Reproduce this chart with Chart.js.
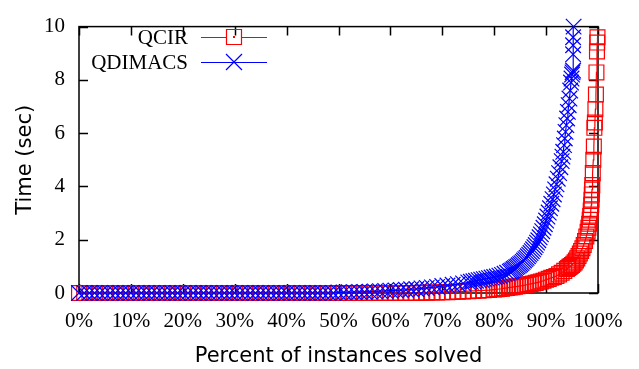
<!DOCTYPE html>
<html>
<head>
<meta charset="utf-8">
<script src="https://cdn.jsdelivr.net/npm/chart.js@4"></script>
<style>
  html, body { margin: 0; padding: 0; background: #fff; }
</style>
</head>
<body>
<canvas id="cactus" width="639" height="369"></canvas>
<script>
// series names and tick values
const seriesNames = ['QCIR', 'QDIMACS'];
const xTicks = [0, 10, 20, 30, 40, 50, 60, 70, 80, 90, 100];
const yTicks = [0, 2, 4, 6, 8, 10];

// QCIR: percent of instances solved vs time (sec)
const qcirPct = [
  0, 1, 2, 3, 4, 5, 6, 7, 8, 9,
  10, 11, 12, 13, 14, 15, 16, 17, 18, 19,
  20, 21, 22, 23, 24, 25, 26, 27, 28, 29,
  30, 31, 32, 33, 34, 35, 36, 37, 38, 39,
  40, 41, 42, 43, 44, 45, 46, 47, 48, 49,
  50, 51, 52, 53, 54, 55, 56, 57, 58, 59,
  60, 61, 62, 63, 64, 65, 66, 67, 68, 69,
  70, 71, 72, 73, 74, 75, 76, 77, 78, 79,
  80, 80.5, 81, 81.5, 82, 82.5, 83, 83.5, 84, 84.5,
  85, 85.5, 86, 86.5, 87, 87.5, 88, 88.5, 89, 89.5,
  90, 90.5, 91, 91.5, 92, 92.5, 93, 93.5, 94, 94.25,
  94.5, 94.75, 95, 95.25, 95.5, 95.75, 96, 96.25, 96.5, 96.75,
  97, 97.25, 97.5, 97.75, 98, 98.15, 98.3, 98.4, 98.5, 98.6,
  98.7, 98.75, 98.8, 98.85, 98.9, 99, 99.1, 99.2, 99.3, 99.4,
  99.5, 99.6, 99.7, 99.8, 99.85, 99.9];
const qcirTime = [
  0, 0, 0, 0, 0, 0, 0, 0, 0, 0,
  0, 0, 0, 0, 0, 0, 0, 0, 0, 0,
  0, 0, 0, 0, 0, 0, 0, 0, 0, 0,
  0, 0, 0, 0, 0, 0, 0, 0, 0, 0,
  0, 0, 0, 0, 0, 0, 0, 0, 0, 0,
  0, 0, 0, 0, 0, 0, 0, 0, 0, 0,
  0, 0, 0, 0, 0, 0, 0.01, 0.01, 0.02, 0.02,
  0.03, 0.03, 0.04, 0.05, 0.06, 0.07, 0.08, 0.09, 0.1, 0.11,
  0.13, 0.14, 0.15, 0.16, 0.18, 0.19, 0.21, 0.22, 0.24, 0.25,
  0.27, 0.28, 0.3, 0.32, 0.34, 0.36, 0.38, 0.4, 0.43, 0.46,
  0.5, 0.53, 0.57, 0.6, 0.64, 0.7, 0.76, 0.83, 0.9, 0.94,
  0.98, 1.01, 1.05, 1.1, 1.15, 1.22, 1.3, 1.39, 1.48, 1.58,
  1.68, 1.8, 1.95, 2.12, 2.3, 2.45, 2.6, 2.75, 2.9, 3.1,
  3.3, 3.5, 3.7, 3.88, 4.05, 4.5, 5.0, 5.5, 6.2, 6.4,
  6.9, 7.45, 8.28, 9.07, 9.4, 9.6];

// QDIMACS
const qdimacsPct = [
  0, 1, 2, 3, 4, 5, 6, 7, 8, 9,
  10, 11, 12, 13, 14, 15, 16, 17, 18, 19,
  20, 21, 22, 23, 24, 25, 26, 27, 28, 29,
  30, 31, 32, 33, 34, 35, 36, 37, 38, 39,
  40, 41, 42, 43, 44, 45, 46, 47, 48, 49,
  50, 51, 52, 53, 54, 55, 56, 57, 58, 59,
  60, 61, 62, 63, 64, 65, 66, 67, 68, 69,
  70, 71, 72, 73, 74, 75, 75.5, 76, 76.5, 77,
  77.5, 78, 78.5, 79, 79.5, 80, 80.5, 81, 81.5, 82,
  82.5, 83, 83.25, 83.5, 83.75, 84, 84.25, 84.5, 84.75, 85,
  85.25, 85.5, 85.75, 86, 86.25, 86.5, 86.75, 87, 87.25, 87.5,
  87.75, 88, 88.25, 88.5, 88.75, 89, 89.25, 89.5, 89.75, 90,
  90.25, 90.5, 90.75, 91, 91.25, 91.5, 91.75, 92, 92.25, 92.5,
  92.75, 93, 93.15, 93.3, 93.45, 93.6, 93.75, 93.9, 94.05, 94.2,
  94.35, 94.5, 94.65, 94.8, 94.9, 95, 95.1, 95.2, 95.2, 95.2,
  95.2, 95.3];
const qdimacsTime = [
  0, 0, 0, 0, 0, 0, 0, 0, 0, 0,
  0, 0, 0, 0, 0, 0, 0, 0, 0, 0,
  0, 0, 0, 0, 0, 0, 0, 0, 0, 0,
  0, 0, 0, 0, 0, 0, 0, 0, 0, 0,
  0, 0, 0, 0, 0, 0, 0, 0, 0, 0,
  0.02, 0.02, 0.03, 0.03, 0.04, 0.04, 0.05, 0.06, 0.07, 0.08,
  0.09, 0.1, 0.11, 0.12, 0.14, 0.15, 0.17, 0.19, 0.21, 0.23,
  0.26, 0.28, 0.31, 0.33, 0.36, 0.4, 0.42, 0.44, 0.46, 0.48,
  0.5, 0.52, 0.54, 0.56, 0.58, 0.6, 0.62, 0.65, 0.68, 0.72,
  0.76, 0.8, 0.83, 0.86, 0.9, 0.93, 0.97, 1.0, 1.04, 1.08,
  1.12, 1.17, 1.22, 1.27, 1.32, 1.38, 1.44, 1.5, 1.57, 1.64,
  1.72, 1.8, 1.89, 1.98, 2.09, 2.2, 2.32, 2.45, 2.58, 2.72,
  2.87, 3.02, 3.18, 3.35, 3.52, 3.7, 3.89, 4.08, 4.29, 4.5,
  4.72, 4.95, 5.12, 5.3, 5.55, 5.8, 6.05, 6.3, 6.55, 6.8,
  7.05, 7.3, 7.6, 7.9, 8.05, 8.2, 8.28, 8.35, 8.96, 9.3,
  9.6, 10];

const RED = '#ff0000';
const BLUE = '#0000ff';
const serif = '"Liberation Serif", "Times New Roman", serif';
const sans = '"DejaVu Sans", sans-serif';

function toPoints(xs, ys) {
    return xs.map((x, i) => ({ x: x, y: ys[i] }));
}

// gnuplot style frame: box round the plot plus inward ticks on all four sides
const framePlugin = {
    id: 'frame',
    beforeDatasetsDraw(chart) {
        const { ctx, chartArea: a, scales } = chart;
        const len = 9;
        ctx.save();
        ctx.strokeStyle = '#000';
        ctx.lineWidth = 1.5;
        ctx.beginPath();
        xTicks.forEach(v => {
            const px = Math.round(scales.x.getPixelForValue(v)) + 0.5;
            ctx.moveTo(px, a.bottom); ctx.lineTo(px, a.bottom - len);
            ctx.moveTo(px, a.top); ctx.lineTo(px, a.top + len);
        });
        yTicks.forEach(v => {
            const py = Math.round(scales.y.getPixelForValue(v)) + 0.5;
            ctx.moveTo(a.left, py); ctx.lineTo(a.left + len, py);
            ctx.moveTo(a.right, py); ctx.lineTo(a.right - len, py);
        });
        ctx.stroke();
        ctx.strokeRect(a.left, a.top, a.right - a.left, a.bottom - a.top);
        ctx.restore();
    }
};

// key drawn inside the plot, top left, like the gnuplot one
const keyPlugin = {
    id: 'key',
    afterDraw(chart) {
        const { ctx } = chart;
        const rows = [
            { name: seriesNames[0], color: RED, y: 37, mark: 'rect' },
            { name: seriesNames[1], color: BLUE, y: 62, mark: 'cross' }
        ];
        ctx.save();
        ctx.font = '21px ' + serif;
        ctx.textAlign = 'right';
        ctx.textBaseline = 'middle';
        rows.forEach(r => {
            ctx.fillStyle = '#000';
            ctx.fillText(r.name, 188, r.y + 1);
            ctx.strokeStyle = r.color;
            ctx.lineWidth = 1.2;
            ctx.beginPath();
            if (r.mark === 'rect') {
                ctx.moveTo(201, r.y + 0.5); ctx.lineTo(226, r.y + 0.5);
                ctx.moveTo(242, r.y + 0.5); ctx.lineTo(267, r.y + 0.5);
                ctx.rect(226.5, r.y - 7.5, 15, 15);
                ctx.stroke();
                ctx.fillStyle = r.color;
                ctx.fillRect(233, r.y - 1, 2, 2);
            } else {
                ctx.moveTo(201, r.y + 0.5); ctx.lineTo(267, r.y + 0.5);
                ctx.moveTo(226, r.y - 8); ctx.lineTo(242, r.y + 8);
                ctx.moveTo(242, r.y - 8); ctx.lineTo(226, r.y + 8);
                ctx.stroke();
            }
        });
        ctx.restore();
    }
};

new Chart(document.getElementById('cactus').getContext('2d'), {
    type: 'scatter',
    data: {
        datasets: [{
            label: seriesNames[0],
            data: toPoints(qcirPct, qcirTime),
            showLine: true,
            borderColor: RED,
            borderWidth: 1.2,
            backgroundColor: 'rgba(0,0,0,0)',
            pointStyle: 'rect',
            pointRadius: 10.5,
            pointBorderColor: RED,
            pointBorderWidth: 1.2,
            pointBackgroundColor: 'rgba(0,0,0,0)',
            clip: false,
            order: 1
        }, {
            label: seriesNames[1],
            data: toPoints(qdimacsPct, qdimacsTime),
            showLine: true,
            borderColor: BLUE,
            borderWidth: 1.2,
            backgroundColor: 'rgba(0,0,0,0)',
            pointStyle: 'crossRot',
            pointRadius: 11,
            pointBorderColor: BLUE,
            pointBorderWidth: 1.2,
            clip: false,
            order: 0
        }]
    },
    options: {
        responsive: false,
        animation: false,
        layout: { padding: { top: 14, right: 41, left: 0, bottom: 0 } },
        plugins: {
            legend: { display: false },
            tooltip: { enabled: false }
        },
        scales: {
            x: {
                type: 'linear',
                min: 0,
                max: 100,
                afterBuildTicks: s => { s.ticks = xTicks.map(v => ({ value: v })); },
                afterFit: s => { s.height = 76; },
                grid: { display: false, drawTicks: false },
                border: { display: false },
                ticks: {
                    color: '#000',
                    padding: 16,
                    autoSkip: false,
                    maxRotation: 0,
                    font: { family: serif, size: 21 },
                    callback: v => v + '%'
                },
                title: {
                    display: true,
                    text: 'Percent of instances solved',
                    color: '#000',
                    font: { family: sans, size: 21 },
                    padding: { top: 0, bottom: 0 }
                }
            },
            y: {
                type: 'linear',
                min: 0,
                max: 10,
                afterBuildTicks: s => { s.ticks = yTicks.map(v => ({ value: v })); },
                afterFit: s => { s.width = 79; },
                grid: { display: false, drawTicks: false },
                border: { display: false },
                ticks: {
                    color: '#000',
                    padding: 14,
                    autoSkip: false,
                    font: { family: serif, size: 21 }
                },
                title: {
                    display: true,
                    text: 'Time (sec)',
                    color: '#000',
                    font: { family: sans, size: 21 },
                    padding: { top: 13, bottom: 0 }
                }
            }
        }
    },
    plugins: [framePlugin, keyPlugin]
});
</script>
</body>
</html>
